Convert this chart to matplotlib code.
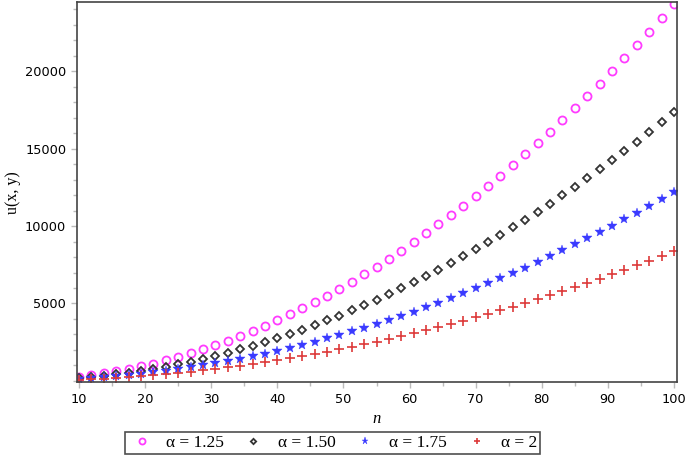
import matplotlib
matplotlib.use("Agg")
import matplotlib.pyplot as plt
from matplotlib.ticker import MultipleLocator

n_vals = [10, 11.875, 13.75, 15.625, 17.5, 19.375, 21.25, 23.125, 25, 26.875,
          28.75, 30.625, 32.5, 34.375, 36.25, 38.125, 40, 41.875, 43.75, 45.625,
          47.5, 49.375, 51.25, 53.125, 55, 56.875, 58.75, 60.625, 62.5, 64.375,
          66.25, 68.125, 70, 71.875, 73.75, 75.625, 77.5, 79.375, 81.25, 83.125,
          85, 86.875, 88.75, 90.625, 92.5, 94.375, 96.25, 98.125, 100]

u_125 = [273, 373, 490, 623, 774, 942, 1127, 1330, 1549, 1785,
         2039, 2309, 2597, 2901, 3223, 3562, 3918, 4291, 4681, 5088,
         5513, 5954, 6413, 6888, 7381, 7891, 8417, 8961, 9522, 10100,
         10696, 11308, 11937, 12583, 13247, 13927, 14625, 15340, 16072, 16821,
         17587, 18370, 19170, 19987, 20822, 21673, 22542, 23427, 24320]

u_150 = [173, 244, 328, 423, 531, 651, 783, 927, 1083, 1252,
         1432, 1625, 1830, 2048, 2277, 2519, 2773, 3039, 3317, 3607,
         3910, 4225, 4552, 4891, 5242, 5606, 5982, 6369, 6770, 7182,
         7606, 8043, 8492, 8953, 9426, 9911, 10409, 10919, 11440, 11975,
         12521, 13079, 13650, 14233, 14828, 15435, 16055, 16686, 17330]

u_175 = [122, 172, 231, 298, 373, 458, 551, 652, 762, 880,
         1008, 1143, 1288, 1440, 1602, 1772, 1950, 2138, 2333, 2537,
         2750, 2972, 3202, 3440, 3688, 3943, 4208, 4480, 4762, 5052,
         5350, 5657, 5973, 6297, 6630, 6972, 7322, 7680, 8047, 8423,
         8807, 9200, 9602, 10012, 10430, 10857, 11293, 11737, 12190]

u_200 = [84, 118, 158, 205, 257, 315, 378, 448, 524, 605,
         693, 786, 885, 990, 1101, 1218, 1341, 1469, 1604, 1744,
         1891, 2043, 2201, 2365, 2535, 2711, 2892, 3080, 3273, 3473,
         3678, 3889, 4106, 4329, 4558, 4793, 5033, 5280, 5532, 5790,
         6055, 6325, 6601, 6882, 7170, 7464, 7763, 8069, 8380]

labels = ["α = 1.25", "α = 1.50", "α = 1.75", "α = 2"]

fig = plt.figure(figsize=(6.85, 4.58), dpi=100)
ax = fig.add_axes([76.7/685, 1-382.3/458, 600/685, 380.3/458])

h1, = ax.plot(n_vals, u_125, linestyle="none", marker="o", markersize=5.8,
              markerfacecolor="none", markeredgecolor="#ff3cff", markeredgewidth=1.3)
h2, = ax.plot(n_vals, u_150, linestyle="none", marker="D", markersize=3.6,
              markerfacecolor="none", markeredgecolor="#333333", markeredgewidth=1.3)
h3, = ax.plot(n_vals, u_175, linestyle="none", marker="*", markersize=7,
              markerfacecolor="#3a3aff", markeredgecolor="#3a3aff", markeredgewidth=0.3)
h4, = ax.plot(n_vals, u_200, linestyle="none", marker="+", markersize=6.5,
              markeredgecolor="#dd3a3a", markeredgewidth=1.2)

ax.set_xlim(9.65, 100.41)
ax.set_ylim(-84, 24452)
ax.xaxis.set_major_locator(MultipleLocator(10))
ax.xaxis.set_minor_locator(MultipleLocator(5))
ax.set_yticks([5000, 10000, 15000, 20000])
ax.yaxis.set_minor_locator(MultipleLocator(1000))

for s in ax.spines.values():
    s.set_color("#444444")
    s.set_linewidth(1.2)

ax.tick_params(axis="both", which="both", direction="out", color="#bbbbbb",
               labelsize=9.3, labelcolor="black")
ax.tick_params(which="major", length=4, width=1)
ax.tick_params(which="minor", length=3, width=1)
for lab in ax.get_xticklabels() + ax.get_yticklabels():
    lab.set_family("DejaVu Sans")

ax.set_xlabel("n", family="Liberation Serif", style="italic", fontsize=12, labelpad=4)
ax.set_ylabel("u(x, y)", family="Liberation Serif", fontsize=11.5, labelpad=3)

handles = [h1, h2, h3, h4]
leg = fig.legend(handles, labels, loc="center", bbox_to_anchor=(332.5/685, 1-443/458),
                 ncol=4, frameon=True, fancybox=False, markerscale=0.75,
                 prop={"family": "Liberation Serif", "size": 12.5},
                 handlelength=1.6, handletextpad=0.6, columnspacing=0.9,
                 borderpad=0.15, borderaxespad=0, edgecolor="#222222")
leg.get_frame().set_linewidth(1.2)

fig.savefig("out.png", dpi=100)
